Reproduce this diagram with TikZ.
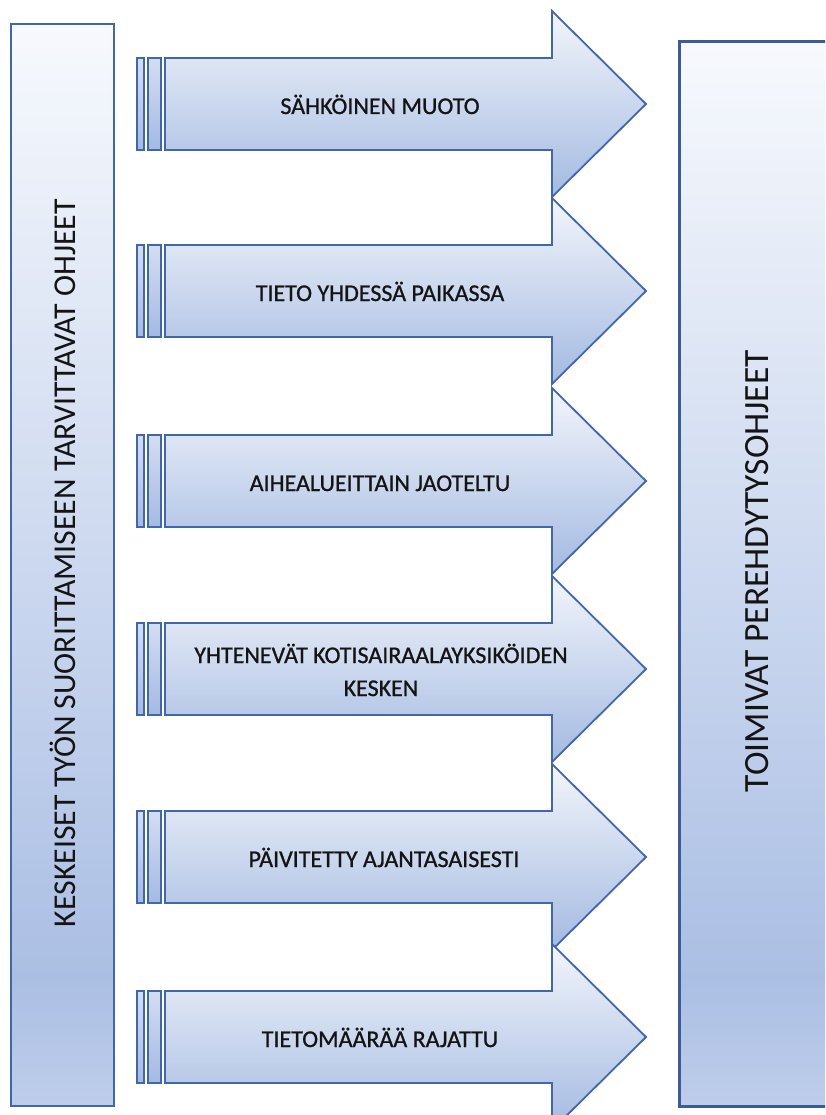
\documentclass[tikz,border=0pt]{standalone}
\usepackage{fontspec}
\setmainfont{Carlito}
\newfontfamily\labelfont[FakeBold=0.9]{Carlito}
\definecolor{lineblue}{RGB}{66,103,168}
\definecolor{frameblue}{RGB}{60,92,150}
\definecolor{arrowtop}{RGB}{242,245,251}
\definecolor{arrowbot}{RGB}{164,186,225}
\definecolor{boxtop}{RGB}{247,249,253}
\definecolor{boxdark}{RGB}{171,191,228}
\definecolor{boxbot}{RGB}{190,205,234}
\definecolor{labeltext}{RGB}{20,20,20}
% vertical fill of the two side panels: light at the top, darkest near the foot
\pgfdeclareverticalshading{panelshade}{100bp}{color(0bp)=(boxbot); color(25bp)=(boxbot); color(31bp)=(boxdark); color(75bp)=(boxtop); color(100bp)=(boxtop)}
\begin{document}
\begin{tikzpicture}[x=1pt,y=-1pt,
  panel/.style={shading=panelshade, draw=lineblue, line width=2pt},
  bigarrow/.style={top color=arrowtop, bottom color=arrowbot, draw=lineblue, line width=1.8pt, line join=miter},
  stripe/.style={top color=arrowtop!60!arrowbot, bottom color=arrowbot, draw=lineblue, line width=1.5pt},
  lbl/.style={font=\labelfont\fontsize{24}{33}\selectfont, text=labeltext, inner sep=0pt},
  sidelbl/.style={text=labeltext, inner sep=0pt, rotate=90, anchor=base}]
\path[use as bounding box] (0,0) rectangle (825,1115);
\clip (0,0) rectangle (825,1115);

% side panels
\path[panel] (11,24) rectangle (114,1106);
\path[panel, draw=frameblue, line width=3pt] (679,42) rectangle (835,1106);
\node[sidelbl, font=\fontsize{31.8}{38}\selectfont] (left) at (75,563)
  {KESKEISET TYÖN SUORITTAMISEEN TARVITTAVAT OHJEET};
\node[sidelbl, font=\fontsize{35.5}{42}\selectfont] (right) at (768,571)
  {TOIMIVAT PEREHDYTYSOHJEET};

% block arrows with their stripes
\foreach \c in {104,291,481,669,857,1037}{
  \path[stripe] (137,{\c-46}) rectangle (144,{\c+46});
  \path[stripe] (148,{\c-46}) rectangle (161,{\c+46});
  \path[bigarrow] (165,{\c-46}) -- (552,{\c-46}) -- (552,{\c-93}) -- (646,\c)
    -- (552,{\c+93}) -- (552,{\c+46}) -- (165,{\c+46}) -- cycle;
}

\node[lbl, anchor=base] (a1) at (380,114) {SÄHKÖINEN MUOTO};
\node[lbl, anchor=base] (a2) at (380,301) {TIETO YHDESSÄ PAIKASSA};
\node[lbl, anchor=base] (a3) at (380,491) {AIHEALUEITTAIN JAOTELTU};
\node[lbl, align=center] (a4) at (381,670) {YHTENEVÄT KOTISAIRAALAYKSIKÖIDEN\\KESKEN};
\node[lbl, anchor=base] (a5) at (384,867) {PÄIVITETTY AJANTASAISESTI};
\node[lbl, anchor=base] (a6) at (380,1047) {TIETOMÄÄRÄÄ RAJATTU};
\end{tikzpicture}
\end{document}
